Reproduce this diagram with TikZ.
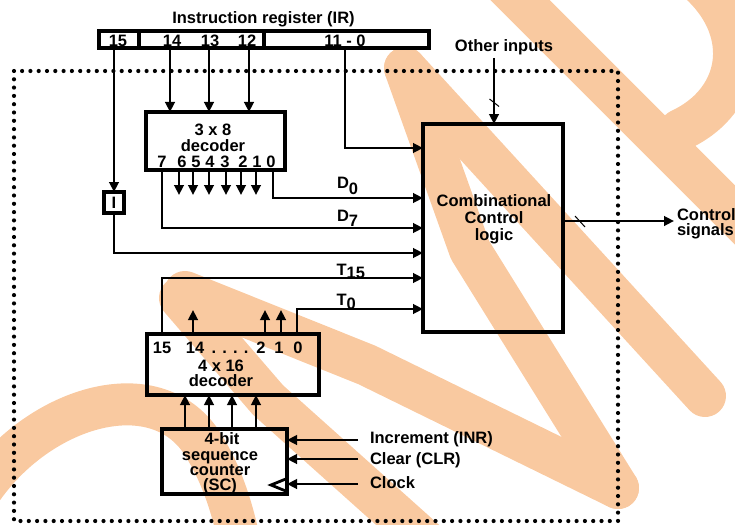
\documentclass[tikz,border=0pt]{standalone}
\usepackage{fontspec}
\setmainfont{Liberation Sans}
\usetikzlibrary{arrows.meta}
\definecolor{wm}{RGB}{249,201,160}
\begin{document}
\begin{tikzpicture}[x=1pt,y=-1pt,
  every node/.style={font=\fontsize{16.5}{17}\selectfont\bfseries, inner sep=0pt, outer sep=0pt},
  box/.style={draw, line width=3.3pt},
  wire/.style={line width=2.8pt},
  arr/.style={line width=2.8pt, -{Triangle[length=10pt,width=9.5pt]}},
  wmark/.style={draw=wm, line width=42pt, line cap=round, line join=round},
  tick/.style={line width=1pt},
  dots/.style={line width=4.2pt, line cap=round, dash pattern=on 0pt off 8.3pt}]
\useasboundingbox (0,0) rectangle (735,524);
% watermark
\draw[wmark] (405,68) -- (705,396);
\draw[wmark] (405,68) -- (470,250) -- (618,488);
\draw[wmark] (185,292) -- (367,365) -- (618,488);
\draw[wmark] (180,298) -- (268,400) -- (430,545);
\draw[wmark] (-25,500) .. controls (30,410) and (150,370) .. (200,440) .. controls (220,470) and (232,505) .. (240,545);
\draw[wmark] (500,-20) -- (760,240);
\draw[wmark] (690,-25) .. controls (755,25) and (745,100) .. (680,130);
% dotted frame
\draw[dots] (14,71) rectangle (618,521);
% instruction register
\node (irtitle) [anchor=base] at (263.5,24) {Instruction register (IR)};
\node[box, minimum width=330pt, minimum height=17pt] (ir) at (264,39.5) {};
\draw[box] (139,31) -- (139,48);
\draw[box] (264,31) -- (264,48);
\node (b15) [anchor=base] at (118,46.5) {15};
\node (b14) [anchor=base] at (172,46.5) {14};
\node (b13) [anchor=base] at (210,46.5) {13};
\node (b12) [anchor=base] at (247,46.5) {12};
\node (b11) [anchor=base] at (345,46.5) {11 - 0};
% 3x8 decoder
\node[box, minimum width=139pt, minimum height=58pt] (dec) at (215.5,141) {};
\node (d38a) [anchor=base] at (213,135) {3 x 8};
\node (d38b) [anchor=base] at (213,151.5) {decoder};
\foreach \d/\x in {7/162,6/182,5/196,4/210,3/225,2/243,1/257,0/271}
  \node (dd\d) [anchor=base] at (\x,167.5) {\d};
% I flip-flop
\node[box, minimum width=20pt, minimum height=21pt] (ibox) at (114,202.5) {I};
% combinational control logic
\node[box, minimum width=140pt, minimum height=208pt] (ccl) at (493,228) {};
\node (c1) [anchor=base] at (494,206) {Combinational};
\node (c2) [anchor=base] at (494,223.3) {Control};
\node (c3) [anchor=base] at (494,240.7) {logic};
\node (oi) [anchor=base] at (504,51.7) {Other inputs};
\node (cs1) [anchor=base west] at (677,220) {Control};
\node (cs2) [anchor=base west] at (677,235) {signals};
% 4x16 decoder
\node[box, minimum width=172pt, minimum height=61pt] (dec16) at (233,364.5) {};
\node (t15n) [anchor=base] at (162,353) {15};
\node (t14n) [anchor=base] at (195,353) {14};
\node (tdots) [anchor=base] at (230,353) {. . . .};
\node (t2n) [anchor=base] at (261,353) {2};
\node (t1n) [anchor=base] at (279,353) {1};
\node (t0n) [anchor=base] at (298,353) {0};
\node (d16a) [anchor=base] at (221,371.5) {4 x 16};
\node (d16b) [anchor=base] at (221,386.5) {decoder};
% sequence counter
\node[box, minimum width=125pt, minimum height=65pt] (sc) at (224.5,461.5) {};
\node (s1) [anchor=base] at (222,444.3) {4-bit};
\node (s2) [anchor=base] at (220,460) {sequence};
\node (s3) [anchor=base] at (220,475.5) {counter};
\node (s4) [anchor=base] at (220,490.5) {(SC)};
\draw[line width=2.8pt] (287,478.5) -- (271,485) -- (287,491.5);
\node (linr) [anchor=base west] at (370,443) {Increment (INR)};
\node (lclr) [anchor=base west] at (370,464) {Clear (CLR)};
\node (lclk) [anchor=base west] at (370,488) {Clock};
% labels on lines
\node (ld0) [anchor=base west] at (337,188) {D\raisebox{-6pt}{0}};
\node (ld7) [anchor=base west] at (337,221.7) {D\raisebox{-5pt}{7}};
\node (lt15) [anchor=base west] at (336.5,275) {T\raisebox{-3pt}{15}};
\node (lt0) [anchor=base west] at (336.5,305) {T\raisebox{-4pt}{0}};
% coordinates
\coordinate (p15) at (114,48);
\coordinate (p14) at (170,48);
\coordinate (p13) at (209,48);
\coordinate (p12) at (249,48);
\coordinate (p11) at (345,48);
\coordinate (x7) at (162,0);
\coordinate (x0) at (273,0);
\coordinate (xt15) at (162,0);
\coordinate (xt0) at (297,0);
\coordinate (yA) at (0,148);
\coordinate (yD0) at (0,198);
\coordinate (yD7) at (0,228);
\coordinate (yI) at (0,253);
\coordinate (yT15) at (0,278);
\coordinate (yT0) at (0,309);
\coordinate (ysig) at (0,221);
\coordinate (oitop) at (494,58);
\coordinate (csend) at (674,221);
\coordinate (iinr) at (358,440);
\coordinate (iclr) at (358,459);
\coordinate (iclk) at (358,484);
% connectors
\draw[arr] (p15) -- (p15 |- ibox.north);
\draw[arr] (p14) -- (p14 |- dec.north);
\draw[arr] (p13) -- (p13 |- dec.north);
\draw[arr] (p12) -- (p12 |- dec.north);
\draw[arr] (p11) |- (ccl.west |- yA);
\foreach \x in {179,193,209,226,241,256}
  \draw[arr] (\x,170) -- (\x,195);
\draw[arr] (x0 |- dec.south) |- (ccl.west |- yD0);
\draw[arr] (x7 |- dec.south) |- (ccl.west |- yD7);
\draw[arr] (ibox.south) |- (ccl.west |- yI);
\draw[arr] (xt15 |- dec16.north) |- (ccl.west |- yT15);
\draw[arr] (xt0 |- dec16.north) |- (ccl.west |- yT0);
\foreach \x in {193,265,281}
  \draw[arr] (\x,334) -- (\x,310);
\foreach \x in {185,209,232,256}
  \draw[arr] (\x,429) -- (\x,395);
\draw[arr] (iinr) -- (sc.east |- iinr);
\draw[arr] (iclr) -- (sc.east |- iclr);
\draw[arr] (iclk) -- (sc.east |- iclk);
\draw[arr] (oitop) -- (oitop |- ccl.north);
\draw[tick] (489.5,99) -- (499,106.5);
\draw[arr] (ccl.east |- ysig) -- (csend);
\draw[tick] (575,216) -- (585,227);
\end{tikzpicture}
\end{document}
